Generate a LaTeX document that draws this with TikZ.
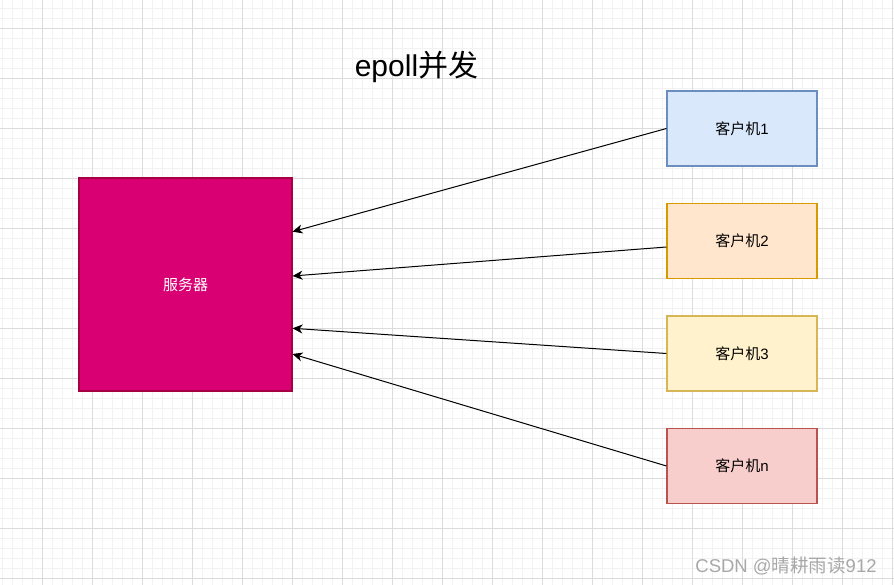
\documentclass[tikz,border=0pt]{standalone}
\usepackage{fontspec}
\setmainfont{Liberation Sans}
\newfontfamily\cjk{Noto Sans CJK SC}
\usetikzlibrary{arrows.meta}
\definecolor{gridminor}{HTML}{F2F2F2}
\definecolor{gridmajor}{HTML}{DCDCDC}
\definecolor{srvfill}{HTML}{D80073}
\definecolor{srvdraw}{HTML}{A50040}
\definecolor{bluefill}{HTML}{DAE8FC}
\definecolor{bluedraw}{HTML}{6C8EBF}
\definecolor{orangefill}{HTML}{FFE6CC}
\definecolor{orangedraw}{HTML}{D79B00}
\definecolor{yellowfill}{HTML}{FFF2CC}
\definecolor{yellowdraw}{HTML}{D6B656}
\definecolor{redfill}{HTML}{F8CECC}
\definecolor{reddraw}{HTML}{B85450}
\definecolor{wmgray}{HTML}{A8A8A8}
\begin{document}
\begin{tikzpicture}[x=1pt,y=-1pt,
  client/.style={draw, line width=1.1pt, minimum width=150pt, minimum height=75pt, inner sep=0pt, font=\fontsize{15pt}{18pt}\selectfont},
  server/.style={draw=srvdraw, fill=srvfill, line width=1.1pt, minimum width=213pt, minimum height=213pt, inner sep=0pt, text=white, font=\fontsize{15pt}{18pt}\selectfont},
  conn/.style={line width=1pt, -{Stealth[length=10pt,width=9pt,inset=3pt]}},
  minorline/.style={gridminor, line width=0.8pt},
  majorline/.style={gridmajor, line width=0.8pt}]
\useasboundingbox (0,0) rectangle (894,585);
\fill[white] (0,0) rectangle (894,585);
% grid
\foreach \x in {2,12,...,892} \draw[minorline] (\x,0) -- (\x,585);
\foreach \y in {8,18,...,584} \draw[minorline] (0,\y) -- (894,\y);
\foreach \x in {42,92,...,892} \draw[majorline] (\x,0) -- (\x,585);
\foreach \y in {28,78,...,584} \draw[majorline] (0,\y) -- (894,\y);
% title
\node (title) at (416.5,67) {\fontsize{30pt}{36pt}\selectfont epoll{\cjk 并发}};
% server
\node[server] (server) at (185.5,284.5) {\cjk 服务器};
% clients
\node[client, fill=bluefill, draw=bluedraw] (c1) at (742,128.5) {{\cjk 客户机}1};
\node[client, fill=orangefill, draw=orangedraw] (c2) at (742,241) {{\cjk 客户机}2};
\node[client, fill=yellowfill, draw=yellowdraw] (c3) at (742,353.5) {{\cjk 客户机}3};
\node[client, fill=redfill, draw=reddraw] (cn) at (742,466) {{\cjk 客户机}n};
% arrow end points on the server's right edge
\coordinate (e1) at (292.5,231.7);
\coordinate (e2) at (292.5,276);
\coordinate (e3) at (292.5,328.3);
\coordinate (en) at (292.5,354);
\coordinate (s2) at ([yshift=-6pt]c2.west);
\draw[conn] (c1.west) -- (e1);
\draw[conn] (s2) -- (e2);
\draw[conn] (c3.west) -- (e3);
\draw[conn] (cn.west) -- (en);
% watermark
\node[text=wmgray, font=\fontsize{18.5pt}{22pt}\selectfont] (wm) at (786,566) {CSDN @{\cjk 晴耕雨读}912};
\end{tikzpicture}
\end{document}
